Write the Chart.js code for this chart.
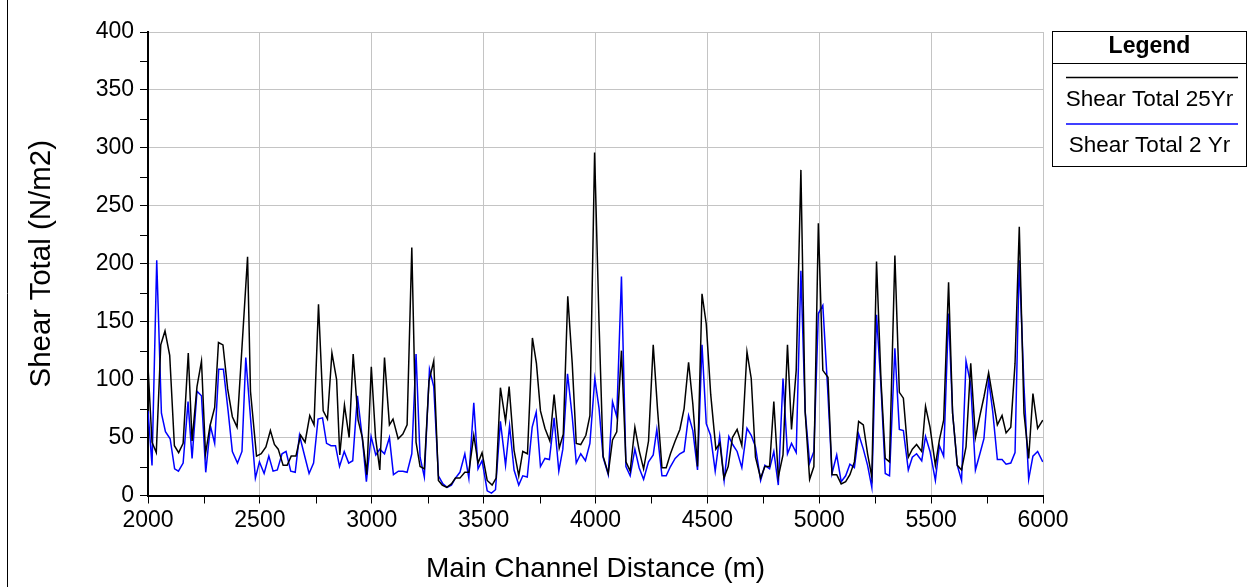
<!DOCTYPE html>
<html>
<head>
<meta charset="utf-8">
<title>Shear Total</title>
<script src="https://cdn.jsdelivr.net/npm/chart.js@4/dist/chart.umd.min.js"></script>
<style>
  html, body { margin: 0; padding: 0; background: #fff; }
  #wrap { width: 1249px; height: 587px; }
</style>
</head>
<body>
<div id="wrap"><canvas id="shearChart" width="1249" height="587"></canvas></div>
<script>
  // 25 年一遇：里程 (m) / 剪切力 (N/m2)
  const dist25 = [2000, 2018, 2037, 2057, 2076, 2097, 2118, 2137, 2157, 2180, 2197, 2219, 2239, 2257, 2277, 2298, 2315, 2335, 2356, 2377, 2398, 2445, 2458, 2485, 2506, 2527, 2547, 2565, 2582, 2604, 2622, 2640, 2661, 2682, 2702, 2723, 2742, 2762, 2783, 2802, 2822, 2843, 2857, 2878, 2899, 2917, 2939, 2958, 2978, 2998, 3017, 3036, 3057, 3079, 3095, 3118, 3139, 3158, 3179, 3198, 3216, 3235, 3256, 3277, 3298, 3315, 3335, 3356, 3374, 3394, 3416, 3434, 3456, 3475, 3493, 3516, 3538, 3556, 3575, 3598, 3614, 3636, 3657, 3675, 3696, 3718, 3736, 3754, 3774, 3796, 3815, 3838, 3856, 3876, 3896, 3914, 3934, 3957, 3975, 3996, 4016, 4034, 4057, 4076, 4095, 4116, 4136, 4155, 4176, 4195, 4215, 4237, 4258, 4277, 4297, 4316, 4335, 4356, 4377, 4396, 4416, 4435, 4456, 4476, 4495, 4515, 4538, 4556, 4574, 4593, 4612, 4633, 4654, 4677, 4696, 4715, 4738, 4757, 4778, 4797, 4817, 4838, 4858, 4876, 4897, 4918, 4937, 4957, 4976, 4996, 5016, 5039, 5057, 5078, 5098, 5118, 5137, 5157, 5176, 5197, 5216, 5235, 5256, 5276, 5295, 5314, 5338, 5358, 5376, 5398, 5416, 5435, 5458, 5475, 5495, 5519, 5537, 5556, 5578, 5596, 5617, 5636, 5656, 5677, 5698, 5718, 5736, 5757, 5775, 5796, 5817, 5835, 5856, 5875, 5894, 5915, 5936, 5955, 5976, 5999];
  const shear25 = [111, 46, 37, 130, 142, 121, 43, 37, 45, 123, 47, 94, 116, 36, 60, 76, 132, 130, 92, 68, 59, 206, 90, 34, 36, 42, 56, 44, 40, 26, 26, 34, 34, 52, 46, 69, 61, 165, 73, 66, 123, 100, 35, 78, 50, 122, 65, 50, 18, 111, 50, 22, 119, 61, 66, 49, 53, 61, 214, 46, 25, 23, 99, 116, 13, 9, 7, 10, 15, 15, 20, 20, 52, 28, 37, 13, 9, 15, 93, 64, 94, 39, 17, 38, 36, 136, 114, 73, 58, 47, 87, 41, 53, 172, 114, 45, 44, 52, 69, 296, 148, 34, 19, 48, 55, 125, 29, 21, 59, 39, 23, 47, 130, 75, 24, 24, 36, 47, 57, 75, 115, 79, 25, 174, 148, 87, 40, 45, 15, 25, 50, 57, 43, 124, 101, 33, 15, 25, 25, 81, 16, 35, 130, 57, 108, 281, 72, 14, 25, 235, 108, 102, 18, 18, 10, 12, 18, 29, 64, 61, 36, 16, 202, 99, 32, 29, 207, 89, 84, 33, 40, 44, 38, 77, 59, 26, 48, 65, 184, 71, 26, 22, 42, 114, 50, 69, 85, 106, 85, 61, 69, 54, 59, 114, 232, 71, 32, 88, 58, 65];

  // 2 年一遇
  const dist2 = [2000, 2018, 2039, 2060, 2078, 2099, 2119, 2136, 2157, 2179, 2197, 2219, 2239, 2258, 2279, 2298, 2316, 2337, 2358, 2377, 2400, 2420, 2437, 2459, 2480, 2498, 2519, 2540, 2559, 2578, 2599, 2617, 2638, 2658, 2677, 2699, 2720, 2740, 2760, 2780, 2798, 2818, 2838, 2856, 2877, 2897, 2915, 2936, 2958, 2976, 2997, 3018, 3036, 3057, 3079, 3097, 3119, 3139, 3158, 3179, 3198, 3216, 3235, 3258, 3277, 3298, 3318, 3337, 3356, 3374, 3394, 3416, 3434, 3456, 3475, 3493, 3516, 3535, 3553, 3575, 3598, 3616, 3636, 3657, 3675, 3695, 3717, 3735, 3754, 3774, 3794, 3815, 3836, 3854, 3875, 3896, 3914, 3934, 3955, 3975, 3997, 4016, 4034, 4057, 4076, 4095, 4116, 4136, 4155, 4176, 4195, 4215, 4237, 4258, 4274, 4297, 4316, 4335, 4356, 4377, 4396, 4416, 4435, 4456, 4476, 4495, 4514, 4535, 4555, 4575, 4596, 4613, 4633, 4654, 4677, 4696, 4715, 4738, 4757, 4778, 4797, 4817, 4838, 4858, 4876, 4897, 4918, 4937, 4957, 4976, 4996, 5016, 5037, 5057, 5078, 5098, 5118, 5137, 5157, 5176, 5197, 5216, 5235, 5256, 5276, 5295, 5314, 5338, 5358, 5376, 5398, 5416, 5435, 5458, 5475, 5495, 5519, 5537, 5556, 5578, 5596, 5617, 5636, 5656, 5677, 5698, 5718, 5736, 5757, 5775, 5796, 5817, 5835, 5856, 5875, 5894, 5915, 5936, 5955, 5976, 5999];
  const shear2 = [73, 26, 203, 71, 55, 49, 23, 21, 28, 81, 32, 90, 86, 20, 60, 45, 109, 109, 73, 38, 28, 38, 119, 65, 15, 29, 19, 34, 21, 22, 36, 38, 21, 20, 52, 35, 19, 28, 66, 67, 45, 43, 43, 25, 38, 28, 30, 86, 49, 12, 51, 35, 40, 36, 50, 18, 21, 21, 20, 36, 122, 33, 16, 109, 94, 17, 10, 7, 9, 15, 20, 36, 15, 80, 23, 30, 4, 2, 5, 64, 26, 60, 22, 9, 17, 16, 59, 72, 25, 32, 31, 67, 21, 40, 105, 68, 28, 36, 30, 45, 101, 75, 33, 18, 81, 68, 189, 25, 17, 40, 24, 14, 29, 35, 57, 17, 17, 25, 32, 36, 38, 69, 56, 22, 130, 62, 52, 21, 51, 13, 51, 44, 38, 24, 58, 52, 42, 13, 26, 23, 38, 9, 101, 36, 45, 37, 194, 73, 28, 38, 157, 164, 94, 19, 35, 12, 17, 27, 24, 53, 40, 26, 7, 156, 94, 19, 17, 127, 57, 56, 22, 33, 36, 30, 51, 38, 13, 43, 34, 157, 71, 26, 13, 116, 96, 22, 36, 49, 100, 73, 31, 31, 27, 28, 37, 203, 94, 14, 34, 38, 29];

  // 坐标轴刻度
  const xTicks = [2000, 2500, 3000, 3500, 4000, 4500, 5000, 5500, 6000];
  const yTicks = [0, 50, 100, 150, 200, 250, 300, 350, 400];

  const FONT = '"Liberation Sans", Arial, sans-serif';
  Chart.defaults.color = '#000';
  Chart.defaults.font.family = FONT;

  function toPoints(xs, ys) {
    return xs.map((x, i) => ({ x: x, y: ys[i] }));
  }

  // 白底和左侧外框线
  const framePlugin = {
    id: 'framePlugin',
    beforeDraw(chart) {
      const ctx = chart.ctx;
      ctx.save();
      ctx.fillStyle = '#fff';
      ctx.fillRect(0, 0, chart.width, chart.height);
      ctx.strokeStyle = '#000';
      ctx.lineWidth = 1;
      ctx.beginPath();
      ctx.moveTo(7.5, 0);
      ctx.lineTo(7.5, chart.height);
      ctx.stroke();
      ctx.restore();
    }
  };

  // 次刻度线：y 每 25，x 每 250
  const minorTicks = {
    id: 'minorTicks',
    afterDraw(chart) {
      const ctx = chart.ctx;
      const xs = chart.scales.x, ys = chart.scales.y;
      ctx.save();
      ctx.strokeStyle = '#000';
      ctx.lineWidth = 1;
      ctx.beginPath();
      for (let i = 0; i < yTicks.length - 1; i++) {
        const py = Math.round(ys.getPixelForValue((yTicks[i] + yTicks[i + 1]) / 2)) + 0.5;
        ctx.moveTo(ys.right - 8, py);
        ctx.lineTo(ys.right, py);
      }
      for (let i = 0; i < xTicks.length - 1; i++) {
        const px = Math.round(xs.getPixelForValue((xTicks[i] + xTicks[i + 1]) / 2)) + 0.5;
        ctx.moveTo(px, xs.top);
        ctx.lineTo(px, xs.top + 8);
      }
      ctx.stroke();
      ctx.restore();
    }
  };

  // 右侧图例框
  const legendPanel = {
    id: 'legendPanel',
    afterDraw(chart) {
      const ctx = chart.ctx;
      const x0 = 1052.5, y0 = 31.5, x1 = 1246.5, y1 = 166.5;
      const cx = (x0 + x1) / 2;
      ctx.save();
      ctx.strokeStyle = '#000';
      ctx.lineWidth = 1;
      ctx.strokeRect(x0, y0, x1 - x0, y1 - y0);
      ctx.beginPath();
      ctx.moveTo(x0, 63.5);
      ctx.lineTo(x1, 63.5);
      ctx.stroke();
      ctx.fillStyle = '#000';
      ctx.textAlign = 'center';
      ctx.textBaseline = 'middle';
      ctx.font = 'bold 23px ' + FONT;
      ctx.fillText('Legend', cx, 47);
      ctx.font = '22.5px ' + FONT;
      chart.data.datasets.forEach((ds, i) => {
        const ly = 77.5 + i * 46.5;
        ctx.strokeStyle = ds.borderColor;
        ctx.lineWidth = 1.5;
        ctx.beginPath();
        ctx.moveTo(1066, ly);
        ctx.lineTo(1238, ly);
        ctx.stroke();
        ctx.fillText(ds.label, cx, ly + 22);
      });
      ctx.restore();
    }
  };

  new Chart(document.getElementById('shearChart'), {
    type: 'line',
    data: {
      datasets: [
        {
          label: 'Shear Total 25Yr',
          data: toPoints(dist25, shear25),
          borderColor: '#000000',
          borderWidth: 1.5,
          pointRadius: 0,
          tension: 0
        },
        {
          label: 'Shear Total 2 Yr',
          data: toPoints(dist2, shear2),
          borderColor: '#0000ff',
          borderWidth: 1.5,
          pointRadius: 0,
          tension: 0
        }
      ]
    },
    options: {
      responsive: false,
      animation: false,
      layout: { padding: { top: 32, right: 206, left: 0, bottom: 0 } },
      plugins: {
        legend: { display: false },
        tooltip: { enabled: false }
      },
      scales: {
        x: {
          type: 'linear',
          min: 2000,
          max: 6000,
          afterBuildTicks: (s) => { s.ticks = xTicks.map(v => ({ value: v })); },
          afterFit: (s) => { s.height = 91.5; },
          ticks: {
            font: { size: 23 },
            padding: 3,
            maxRotation: 0,
            callback: v => String(v)
          },
          grid: { color: '#c4c4c4', lineWidth: 1, tickColor: '#000', tickLength: 8 },
          border: { color: '#000', width: 2 },
          title: {
            display: true,
            text: 'Main Channel Distance (m)',
            font: { size: 28 },
            padding: { bottom: 1 }
          }
        },
        y: {
          min: 0,
          max: 400,
          afterBuildTicks: (s) => { s.ticks = yTicks.map(v => ({ value: v })); },
          afterFit: (s) => { s.width = 148; },
          ticks: {
            font: { size: 23 },
            padding: 6,
            callback: v => String(v)
          },
          grid: { color: '#c4c4c4', lineWidth: 1, tickColor: '#000', tickLength: 8 },
          border: { color: '#000', width: 2 },
          title: {
            display: true,
            text: 'Shear Total (N/m2)',
            font: { size: 29.5 },
            padding: { top: 24 }
          }
        }
      }
    },
    plugins: [framePlugin, minorTicks, legendPanel]
  });
</script>
</body>
</html>
